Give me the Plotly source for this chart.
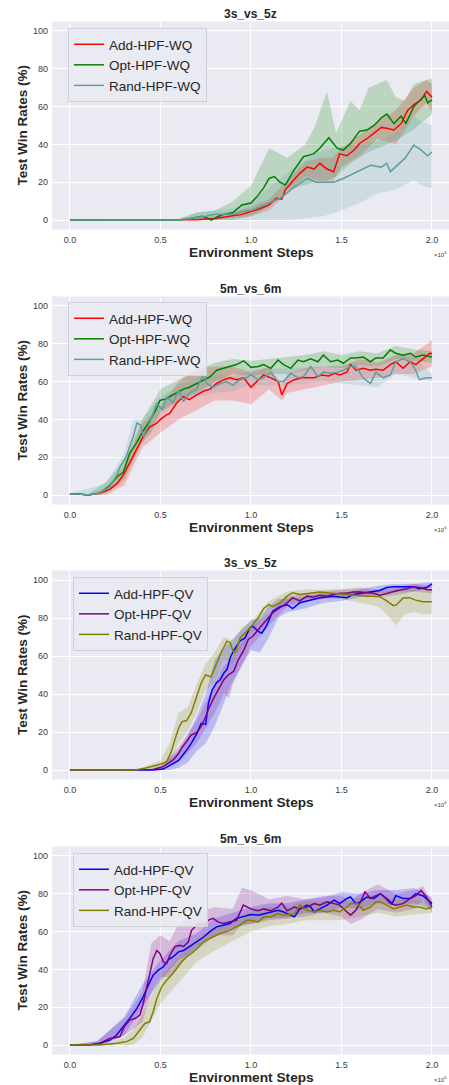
import plotly.graph_objects as go

W, H = 449, 1085

# ---------------- Panel 1 : 3s_vs_5z (WQ) ----------------
p1_add_x = [0, 0.6, 0.7, 0.8, 0.85, 0.9, 0.95, 1.0, 1.05, 1.1, 1.14, 1.17, 1.19, 1.235, 1.27, 1.31, 1.35, 1.38, 1.42, 1.457, 1.49, 1.53, 1.57, 1.6, 1.64, 1.68, 1.72, 1.75, 1.79, 1.83, 1.865, 1.9, 1.94, 1.97, 2.0]
p1_add_y = [0, 0, 0.2, 0.8, 1.5, 2, 3, 4.5, 6, 8, 11.5, 11, 16, 21, 24.7, 28, 27, 30, 27, 25.6, 35, 34, 37, 40.5, 43, 46, 49, 48.5, 47.6, 51, 58, 61, 63.5, 68, 65]
p1_add_bx = [0.6, 0.7, 0.8, 0.9, 1.0, 1.1, 1.2, 1.3, 1.4, 1.45, 1.5, 1.6, 1.7, 1.8, 1.9, 1.97, 2.0]
p1_add_lo = [0, 0, 0, 1, 2, 5, 14, 23, 20, 20, 28, 34, 43, 40, 55, 62, 57]
p1_add_hi = [0, 1, 2, 4, 7, 11, 21, 31, 33, 33, 38, 45, 52, 58, 70, 74, 72]

p1_opt_x = [0, 0.6, 0.65, 0.7, 0.73, 0.76, 0.78, 0.82, 0.85, 0.9, 0.95, 1.0, 1.03, 1.07, 1.1, 1.13, 1.16, 1.19, 1.235, 1.29, 1.346, 1.38, 1.43, 1.476, 1.51, 1.55, 1.6, 1.64, 1.68, 1.72, 1.75, 1.79, 1.83, 1.855, 1.9, 1.96, 1.976, 2.0]
p1_opt_y = [0, 0, 0.5, 1.5, 2, 1, 0, 2, 3, 4, 8, 9, 12, 17, 22, 23, 20, 18.5, 26, 33.5, 35, 38, 43.5, 38, 37, 40.5, 47, 47.6, 50, 54, 56, 51, 55, 51, 60, 66, 62, 63.5]
p1_opt_bx = [0.6, 0.7, 0.8, 0.9, 1.0, 1.1, 1.2, 1.3, 1.35, 1.42, 1.47, 1.55, 1.6, 1.65, 1.75, 1.8, 1.85, 1.9, 2.0]
p1_opt_lo = [0, 0, 0, 0, 2, 7, 16, 18.5, 20, 21, 23, 30, 33, 36, 40, 42, 45, 48, 56]
p1_opt_hi = [0.5, 4, 5, 10, 18, 38, 33, 40, 49, 68, 46, 63, 58, 70, 74, 65, 63, 72, 75]

p1_rand_x = [0, 0.6, 0.65, 0.7, 0.75, 0.8, 0.85, 0.9, 0.95, 1.0, 1.05, 1.1, 1.16, 1.22, 1.27, 1.31, 1.36, 1.42, 1.457, 1.51, 1.57, 1.62, 1.66, 1.72, 1.75, 1.77, 1.81, 1.85, 1.9, 1.94, 1.976, 2.0]
p1_rand_y = [0, 0, 0.5, 1.5, 2, 3, 3, 3, 4.5, 5, 7, 9, 11.5, 16, 19.4, 22, 20, 20, 20, 22, 24.7, 27, 29, 28, 30, 25.6, 29, 32.6, 39.7, 37, 34, 36]
p1_rand_bx = [0.6, 0.7, 0.8, 0.9, 1.0, 1.1, 1.2, 1.3, 1.4, 1.5, 1.6, 1.7, 1.8, 1.9, 1.95, 2.0]
p1_rand_lo = [0, 0, 0, 0, 0, 0, 0, 1, 2, 5, 9, 14, 16, 21, 18, 17]
p1_rand_hi = [0.5, 4, 5, 6, 10, 17, 25, 32, 37, 39, 40, 42, 46, 55, 52, 50]

# ---------------- Panel 2 : 5m_vs_6m (WQ) ----------------
p2_add_x = [0, 0.05, 0.1, 0.166, 0.22, 0.26, 0.295, 0.33, 0.37, 0.405, 0.44, 0.48, 0.5, 0.535, 0.55, 0.59, 0.627, 0.66, 0.7, 0.74, 0.775, 0.81, 0.85, 0.885, 0.92, 0.96, 1.0, 1.04, 1.07, 1.11, 1.15, 1.17, 1.2, 1.24, 1.28, 1.31, 1.35, 1.39, 1.43, 1.46, 1.49, 1.53, 1.55, 1.58, 1.62, 1.66, 1.69, 1.73, 1.77, 1.8, 1.84, 1.88, 1.91, 1.95, 1.99, 2.0]
p2_add_y = [0.5, 0.5, 0, 1, 3, 6, 10.6, 17, 24, 31, 36, 38, 40, 42.5, 43, 48.7, 52, 50.4, 53, 55, 56, 59, 61, 62, 61, 62, 57, 61, 63.5, 62, 60, 53, 59, 61, 62, 62, 62, 63.5, 63, 64.4, 63.5, 65, 69, 66, 67, 66, 66.5, 66, 69, 70.5, 67, 70.5, 69, 72, 75, 74.6]
p2_add_bx = [0, 0.1, 0.2, 0.3, 0.4, 0.5, 0.6, 0.7, 0.8, 0.9, 1.0, 1.1, 1.17, 1.2, 1.3, 1.4, 1.5, 1.6, 1.7, 1.8, 1.9, 2.0]
p2_add_lo = [0, 0, 0, 5, 25, 33, 40, 45, 50, 50, 48, 56, 50, 54, 56, 58, 60, 61, 62, 64, 64, 68]
p2_add_hi = [1, 0.5, 3, 15, 38, 47, 60, 67, 68, 68, 65, 68, 58, 64, 67, 68, 68, 72, 70, 74, 75, 82]

p2_opt_x = [0, 0.05, 0.1, 0.166, 0.22, 0.26, 0.295, 0.33, 0.37, 0.405, 0.44, 0.48, 0.497, 0.535, 0.55, 0.59, 0.627, 0.66, 0.7, 0.74, 0.775, 0.81, 0.85, 0.885, 0.92, 0.96, 1.0, 1.04, 1.07, 1.11, 1.15, 1.18, 1.22, 1.26, 1.29, 1.33, 1.37, 1.4, 1.44, 1.48, 1.51, 1.55, 1.58, 1.62, 1.66, 1.69, 1.73, 1.77, 1.8, 1.84, 1.88, 1.91, 1.95, 2.0]
p2_opt_y = [0.5, 0.5, 0, 1, 5, 9.7, 12, 22, 28, 34, 39, 46, 50, 51, 52, 54, 56, 57, 59, 61, 62.6, 66, 67, 68, 69, 71, 67.5, 68, 69, 67, 71.4, 69, 67, 71.4, 70.5, 72, 70.5, 74, 70.5, 71.4, 69.7, 72.5, 72.5, 73, 70.5, 72.5, 72.5, 76.7, 75, 74, 75, 73, 74, 73]
p2_opt_bx = [0, 0.1, 0.2, 0.3, 0.4, 0.45, 0.5, 0.6, 0.7, 0.8, 0.9, 1.0, 1.1, 1.2, 1.3, 1.4, 1.5, 1.6, 1.7, 1.8, 1.9, 2.0]
p2_opt_lo = [0, 0, 1, 8, 28, 33, 44, 50, 54, 60, 64, 63, 64, 64, 66, 68, 67, 69, 68, 72, 71, 70]
p2_opt_hi = [1, 0.5, 7, 18, 40, 48, 56, 61, 66, 70, 72, 71, 72, 73, 74, 76, 74, 76, 75, 79, 77, 76]

p2_rand_x = [0, 0.05, 0.1, 0.166, 0.22, 0.26, 0.277, 0.31, 0.35, 0.37, 0.39, 0.405, 0.44, 0.48, 0.51, 0.535, 0.57, 0.6, 0.627, 0.66, 0.7, 0.74, 0.755, 0.79, 0.83, 0.865, 0.9, 0.94, 0.975, 1.0, 1.04, 1.07, 1.11, 1.15, 1.18, 1.22, 1.26, 1.29, 1.33, 1.37, 1.4, 1.44, 1.48, 1.51, 1.55, 1.58, 1.62, 1.66, 1.69, 1.73, 1.77, 1.8, 1.84, 1.88, 1.91, 1.93, 1.97, 2.0]
p2_rand_y = [0.5, 0.5, 0, 1, 4.4, 10.6, 15, 20, 31, 38, 37, 31, 38, 48.7, 45, 52, 48.7, 55.5, 49.4, 54, 56, 64.5, 59, 57, 59, 60, 58, 61, 62, 63.5, 61, 62, 64.7, 60, 60, 64.4, 62, 62.6, 68, 62.6, 65, 64.4, 65, 66, 68, 68, 62, 59, 65, 62, 63.5, 70.5, 72, 70.5, 66, 61, 62, 62]
p2_rand_bx = [0, 0.2, 0.3, 0.35, 0.4, 0.5, 0.6, 0.7, 0.8, 0.9, 1.0, 1.2, 1.4, 1.6, 1.7, 1.8, 1.9, 2.0]
p2_rand_lo = [0, 2, 15, 28, 28, 42, 50, 52, 54, 55, 58, 58, 60, 58, 57, 64, 62, 60]
p2_rand_hi = [1, 6, 22, 40, 40, 52, 58, 62, 64, 63, 66, 67, 68, 70, 68, 74, 73, 64]

# ---------------- Panel 3 : 3s_vs_5z (QV) ----------------
p3_add_x = [0, 0.4, 0.46, 0.516, 0.57, 0.6, 0.645, 0.67, 0.7, 0.725, 0.75, 0.765, 0.785, 0.81, 0.83, 0.85, 0.868, 0.885, 0.905, 0.92, 0.94, 0.967, 0.995, 1.01, 1.04, 1.06, 1.085, 1.1, 1.12, 1.16, 1.2, 1.23, 1.27, 1.31, 1.344, 1.38, 1.418, 1.455, 1.49, 1.53, 1.565, 1.6, 1.64, 1.676, 1.712, 1.75, 1.786, 1.823, 1.86, 1.897, 1.93, 1.97, 2.0]
p3_add_y = [0, 0, 0, 0.5, 3.5, 5, 10.5, 14, 19, 24.6, 24, 35, 42, 46, 47.5, 51, 53, 59, 63, 65, 68, 69.5, 75, 75.7, 73, 72, 75.7, 79, 83.6, 86, 87, 85, 88, 89, 90, 90.7, 91, 91.5, 91, 90.7, 92.4, 93, 93.3, 94, 94.5, 96, 96.5, 96.5, 96.8, 96.5, 95.4, 96, 98]
p3_add_bx = [0.4, 0.5, 0.55, 0.6, 0.65, 0.7, 0.75, 0.8, 0.85, 0.9, 0.95, 1.0, 1.05, 1.1, 1.15, 1.2, 1.3, 1.4, 1.5, 1.6, 1.7, 1.8, 1.9, 2.0]
p3_add_lo = [0, 0, 0, 1, 4, 10, 14, 23, 35, 47, 55, 63, 62, 70, 80, 83, 85, 88, 89, 91, 93, 94, 94, 96]
p3_add_hi = [0, 1, 6, 10, 18, 28, 40, 58, 64, 69, 74, 79, 80, 86, 90, 90, 91, 93, 93, 95, 97, 98, 98, 99]

p3_opt_x = [0, 0.4, 0.46, 0.516, 0.57, 0.595, 0.62, 0.645, 0.67, 0.7, 0.725, 0.75, 0.765, 0.79, 0.82, 0.85, 0.875, 0.905, 0.93, 0.96, 0.985, 1.01, 1.05, 1.085, 1.12, 1.16, 1.2, 1.23, 1.27, 1.31, 1.344, 1.38, 1.418, 1.455, 1.49, 1.53, 1.565, 1.6, 1.64, 1.676, 1.712, 1.75, 1.786, 1.823, 1.86, 1.897, 1.93, 1.97, 2.0]
p3_opt_y = [0, 0, 0.3, 1.8, 5.3, 8, 12, 15, 18.5, 19.6, 23, 28, 32, 37, 42, 47.5, 50, 52, 58, 63, 68.7, 70.4, 75, 79, 82.7, 85.4, 88, 90.7, 89, 91.5, 91, 92, 91.5, 92.4, 93, 93, 93.7, 93.7, 93.3, 93, 92, 93, 93.7, 94.7, 95.4, 96.5, 96, 95, 94.7]
p3_opt_bx = [0.4, 0.5, 0.6, 0.7, 0.8, 0.85, 0.88, 0.9, 1.0, 1.1, 1.2, 1.3, 1.4, 1.5, 1.6, 1.7, 1.8, 1.9, 2.0]
p3_opt_lo = [0, 0, 4, 14, 30, 40, 38, 45, 65, 76, 86, 89, 90, 91, 92, 91, 92, 94, 93]
p3_opt_hi = [0, 2, 12, 26, 45, 55, 57, 60, 75, 83, 91, 93, 94, 95, 96, 95, 96, 98, 97]

p3_rand_x = [0, 0.36, 0.42, 0.46, 0.5, 0.535, 0.56, 0.58, 0.6, 0.62, 0.645, 0.67, 0.7, 0.725, 0.75, 0.78, 0.81, 0.838, 0.868, 0.885, 0.905, 0.92, 0.94, 0.967, 0.995, 1.01, 1.04, 1.07, 1.1, 1.12, 1.16, 1.2, 1.23, 1.27, 1.31, 1.344, 1.38, 1.418, 1.455, 1.49, 1.53, 1.565, 1.6, 1.64, 1.676, 1.712, 1.75, 1.786, 1.805, 1.84, 1.876, 1.91, 1.95, 2.0]
p3_rand_y = [0, 0, 1, 1.8, 3, 4.4, 9.7, 16, 22, 25.5, 26, 30, 38.7, 45.8, 50, 49, 56, 62.5, 67.8, 67, 61.6, 63, 69.5, 72, 74.8, 76.6, 80, 85, 87, 86, 88, 91.5, 93.3, 92.4, 93, 93.3, 93.7, 93.3, 93, 92.4, 92, 92, 91.5, 91.5, 91.5, 91.2, 89, 86.5, 87, 90.5, 90.7, 89.4, 88.6, 88.6]
p3_rand_bx = [0.36, 0.45, 0.5, 0.55, 0.6, 0.65, 0.7, 0.75, 0.8, 0.85, 0.9, 0.95, 1.0, 1.1, 1.2, 1.3, 1.4, 1.5, 1.6, 1.7, 1.75, 1.8, 1.85, 1.9, 1.95, 2.0]
p3_rand_lo = [0, 0, 2, 4, 14, 20, 30, 42, 46, 58, 56, 65, 72, 84, 88, 90, 91, 90, 88, 86, 82, 76, 82, 83, 82, 82]
p3_rand_hi = [0, 3, 5, 14, 30, 33, 45, 56, 62, 70, 68, 75, 78, 89, 94, 95, 95, 95, 95, 94, 94, 95, 95, 96, 95, 95]

# ---------------- Panel 4 : 5m_vs_6m (QV) ----------------
p4_add_x = [0, 0.11, 0.166, 0.22, 0.258, 0.295, 0.33, 0.37, 0.405, 0.433, 0.46, 0.488, 0.516, 0.543, 0.57, 0.6, 0.627, 0.66, 0.7, 0.737, 0.773, 0.81, 0.847, 0.884, 0.92, 0.958, 1.0, 1.04, 1.07, 1.11, 1.15, 1.18, 1.24, 1.27, 1.31, 1.33, 1.35, 1.38, 1.42, 1.46, 1.49, 1.53, 1.55, 1.58, 1.605, 1.64, 1.68, 1.715, 1.75, 1.78, 1.8, 1.84, 1.88, 1.91, 1.95, 2.0]
p4_add_y = [0, 0, 1, 2.6, 5.3, 9.7, 14, 19.4, 25.5, 31.7, 37, 39.6, 41.4, 45, 46.7, 49.3, 50, 52, 54.6, 57, 60, 62.5, 63.4, 64.3, 67, 67.8, 69, 68.7, 69.5, 70.4, 71.3, 70.4, 67.8, 72, 74, 73, 70.4, 72, 74, 76.6, 74.8, 77.5, 78.3, 74.8, 75.7, 78.3, 77.5, 80, 77.5, 74.8, 79, 77.5, 77.5, 80, 79, 74.8]
p4_add_bx = [0, 0.15, 0.2, 0.3, 0.4, 0.5, 0.6, 0.7, 0.8, 0.9, 1.0, 1.1, 1.2, 1.3, 1.4, 1.5, 1.6, 1.7, 1.8, 1.9, 2.0]
p4_add_lo = [0, 0, 1, 5, 20, 34, 45, 50, 58, 62, 64, 67, 67, 70, 70, 73, 72, 75, 74, 75, 72]
p4_add_hi = [0, 2, 6, 15, 32, 45, 55, 59, 67, 70, 73, 75, 75, 77, 78, 81, 80, 82, 82, 83, 78]

p4_opt_x = [0, 0.11, 0.166, 0.22, 0.276, 0.3, 0.33, 0.36, 0.387, 0.405, 0.423, 0.44, 0.46, 0.48, 0.497, 0.516, 0.534, 0.552, 0.58, 0.608, 0.627, 0.654, 0.672, 0.7, 0.727, 0.745, 0.764, 0.79, 0.82, 0.847, 0.884, 0.92, 0.958, 1.0, 1.04, 1.07, 1.11, 1.15, 1.17, 1.2, 1.24, 1.27, 1.31, 1.35, 1.38, 1.42, 1.46, 1.49, 1.52, 1.55, 1.58, 1.605, 1.63, 1.66, 1.69, 1.715, 1.745, 1.77, 1.8, 1.84, 1.88, 1.91, 1.94, 1.97, 2.0]
p4_opt_y = [0, 0, 1, 3.5, 4.4, 9.7, 13.2, 14, 16, 22, 30, 37.8, 45.8, 50, 48.4, 44, 43, 47.5, 52, 52.8, 52, 54.6, 60.7, 63.4, 64.3, 63.4, 66, 67, 65, 64.3, 65, 66, 74, 72, 71, 72, 71, 73, 75, 71, 73, 72, 73, 74.8, 74, 75.7, 74.8, 74, 71.3, 68.7, 71.3, 75.7, 81, 77.5, 79, 80, 77.5, 74.8, 74, 74.8, 77.5, 79, 81.8, 78.3, 73]
p4_opt_bx = [0, 0.15, 0.2, 0.3, 0.4, 0.45, 0.5, 0.55, 0.6, 0.7, 0.8, 0.9, 0.95, 1.0, 1.1, 1.2, 1.3, 1.4, 1.5, 1.55, 1.6, 1.7, 1.8, 1.9, 1.95, 2.0]
p4_opt_lo = [0, 0, 1, 5, 12, 28, 36, 36, 42, 52, 58, 58, 64, 64, 66, 67, 68, 70, 68, 64, 66, 72, 70, 72, 77, 70]
p4_opt_hi = [0, 2, 6, 14, 28, 54, 58, 55, 64, 70, 73, 72, 83, 82, 77, 79, 77, 79, 79, 76, 80, 85, 80, 82, 84, 76]

p4_rand_x = [0, 0.166, 0.258, 0.313, 0.35, 0.387, 0.414, 0.44, 0.46, 0.48, 0.507, 0.534, 0.562, 0.59, 0.617, 0.645, 0.672, 0.7, 0.727, 0.755, 0.79, 0.83, 0.866, 0.9, 0.94, 0.976, 1.0, 1.04, 1.07, 1.11, 1.15, 1.18, 1.24, 1.27, 1.31, 1.35, 1.38, 1.42, 1.46, 1.49, 1.53, 1.55, 1.59, 1.62, 1.66, 1.69, 1.715, 1.75, 1.79, 1.82, 1.86, 1.9, 1.93, 1.97, 2.0]
p4_rand_y = [0, 0, 1, 1.8, 3.5, 8, 11.4, 12.3, 17.6, 24.6, 30.8, 34.3, 37, 40.5, 44, 46.7, 48.4, 51, 53.7, 55.5, 57.2, 59, 60, 61.6, 63.4, 66, 66, 65, 67.8, 67.8, 69.5, 68.7, 69.5, 74, 71.3, 70.4, 71.3, 70.4, 71.3, 70.4, 73, 74.8, 74.8, 71.3, 73, 75.7, 75.7, 74, 72, 73, 74, 73, 73, 72, 73]
p4_rand_bx = [0, 0.2, 0.3, 0.35, 0.4, 0.5, 0.6, 0.7, 0.8, 0.9, 1.0, 1.1, 1.2, 1.3, 1.4, 1.5, 1.6, 1.7, 1.8, 1.9, 2.0]
p4_rand_lo = [0, 0, 0, 0, 4, 22, 33, 44, 50, 55, 60, 63, 64, 66, 66, 66, 68, 70, 68, 69, 70]
p4_rand_hi = [0, 1, 4, 8, 16, 36, 47, 56, 62, 66, 71, 73, 73, 76, 76, 76, 78, 79, 77, 77, 76]

titles = ["3s_vs_5z", "5m_vs_6m", "3s_vs_5z", "5m_vs_6m"]
names_wq = ["Add-HPF-WQ", "Opt-HPF-WQ", "Rand-HPF-WQ"]
names_qv = ["Add-HPF-QV", "Opt-HPF-QV", "Rand-HPF-QV"]
colors_wq = [(255, 0, 0), (0, 128, 0), (95, 158, 160)]
colors_qv = [(0, 0, 255), (128, 0, 128), (128, 128, 0)]
x_ticks = [0, 0.5, 1.0, 1.5, 2.0]
x_tick_text = ["0.0", "0.5", "1.0", "1.5", "2.0"]
y_ticks = [0, 20, 40, 60, 80, 100]

panels = [
    (names_wq, colors_wq, [(p1_add_x, p1_add_y, p1_add_bx, p1_add_lo, p1_add_hi),
                           (p1_opt_x, p1_opt_y, p1_opt_bx, p1_opt_lo, p1_opt_hi),
                           (p1_rand_x, p1_rand_y, p1_rand_bx, p1_rand_lo, p1_rand_hi)]),
    (names_wq, colors_wq, [(p2_add_x, p2_add_y, p2_add_bx, p2_add_lo, p2_add_hi),
                           (p2_opt_x, p2_opt_y, p2_opt_bx, p2_opt_lo, p2_opt_hi),
                           (p2_rand_x, p2_rand_y, p2_rand_bx, p2_rand_lo, p2_rand_hi)]),
    (names_qv, colors_qv, [(p3_add_x, p3_add_y, p3_add_bx, p3_add_lo, p3_add_hi),
                           (p3_opt_x, p3_opt_y, p3_opt_bx, p3_opt_lo, p3_opt_hi),
                           (p3_rand_x, p3_rand_y, p3_rand_bx, p3_rand_lo, p3_rand_hi)]),
    (names_qv, colors_qv, [(p4_add_x, p4_add_y, p4_add_bx, p4_add_lo, p4_add_hi),
                           (p4_opt_x, p4_opt_y, p4_opt_bx, p4_opt_lo, p4_opt_hi),
                           (p4_rand_x, p4_rand_y, p4_rand_bx, p4_rand_lo, p4_rand_hi)]),
]

# pixel layout (top, bottom) of each plot area, legend top-left
plot_px = [(21.5, 229.5), (296.5, 504.5), (570.5, 779.5), (846.5, 1054.5)]
legend_px = [(68, 28), (68, 302), (73, 577), (73, 853)]
PLOT_LEFT = 52

FONT = "Arial, Liberation Sans, Helvetica, sans-serif"


def py(p):
    return 1 - p / H


def rgba(c, a):
    return f"rgba({c[0]},{c[1]},{c[2]},{a})"


fig = go.Figure()
layout = dict(
    width=W, height=H,
    margin=dict(l=0, r=0, t=0, b=0),
    paper_bgcolor="white",
    plot_bgcolor="#EAEAF2",
    font=dict(family=FONT, color="#262626"),
    annotations=[],
)

for i, (names, colors, series) in enumerate(panels):
    k = "" if i == 0 else str(i + 1)
    xa, ya = "x" + k, "y" + k
    leg = "legend" + k
    top, bot = plot_px[i]
    for (sx, sy, bx, lo, hi), name, col in zip(series, names, colors):
        fig.add_trace(go.Scatter(
            x=list(bx) + list(bx)[::-1], y=list(lo) + list(hi)[::-1],
            fill="toself", fillcolor=rgba(col, 0.2), line=dict(width=0),
            mode="lines", showlegend=False, hoverinfo="skip",
            xaxis=xa, yaxis=ya))
    for (sx, sy, bx, lo, hi), name, col in zip(series, names, colors):
        fig.add_trace(go.Scatter(
            x=sx, y=sy, mode="lines", name=name,
            line=dict(color=rgba(col, 1), width=1.5),
            xaxis=xa, yaxis=ya, legend=leg))
    layout["xaxis" + k] = dict(
        domain=[PLOT_LEFT / W, 1], anchor=ya, range=[-0.099, 2.094],
        tickvals=x_ticks, ticktext=x_tick_text, showgrid=True,
        gridcolor="white", gridwidth=1, zeroline=False, showline=False,
        ticks="", tickfont=dict(size=9, color="#3a3a3a"), ticklabelstandoff=3,
        automargin=False)
    layout["yaxis" + k] = dict(
        domain=[py(bot), py(top)], anchor=xa, range=[-5, 105],
        tickvals=y_ticks, showgrid=True, gridcolor="white", gridwidth=1,
        zeroline=False, showline=False, ticks="",
        tickfont=dict(size=9, color="#3a3a3a"), ticklabelstandoff=3,
        automargin=False)
    lx, ly = legend_px[i]
    layout[leg] = dict(
        x=lx / W, y=py(ly), xanchor="left", yanchor="top",
        bgcolor="rgba(234,234,242,0.85)", bordercolor="#cfcfd6", borderwidth=1,
        font=dict(size=13.5, color="#262626", family=FONT),
        itemwidth=30, tracegroupgap=0)
    layout["annotations"] += [
        dict(text="<b>" + titles[i] + "</b>", x=0.5 * (PLOT_LEFT / W + 1), y=py(top - 8),
             xref="paper", yref="paper", showarrow=False, xanchor="center", yanchor="middle",
             font=dict(size=12, color="#262626", family=FONT)),
        dict(text="<b>Environment Steps</b>", x=0.5 * (PLOT_LEFT / W + 1) + 0.003, y=py(bot + 22.5),
             xref="paper", yref="paper", showarrow=False, xanchor="center", yanchor="middle",
             font=dict(size=13.7, color="#262626", family=FONT)),
        dict(text="<b>Test Win Rates (%)</b>", x=22 / W, y=py((top + bot) / 2),
             xref="paper", yref="paper", showarrow=False, xanchor="center", yanchor="middle",
             textangle=-90, font=dict(size=13.5, color="#262626", family=FONT)),
        dict(text="×10<sup>6</sup>", x=440 / W, y=py(bot + 24),
             xref="paper", yref="paper", showarrow=False, xanchor="center", yanchor="middle",
             font=dict(size=6, color="#3a3a3a", family=FONT)),
    ]

fig.update_layout(**layout)
fig.write_html(
    "out.html",
    config={"displayModeBar": False},
    post_script="document.body.style.margin='0';document.body.style.padding='0';"
                "document.documentElement.style.overflow='hidden';",
)
